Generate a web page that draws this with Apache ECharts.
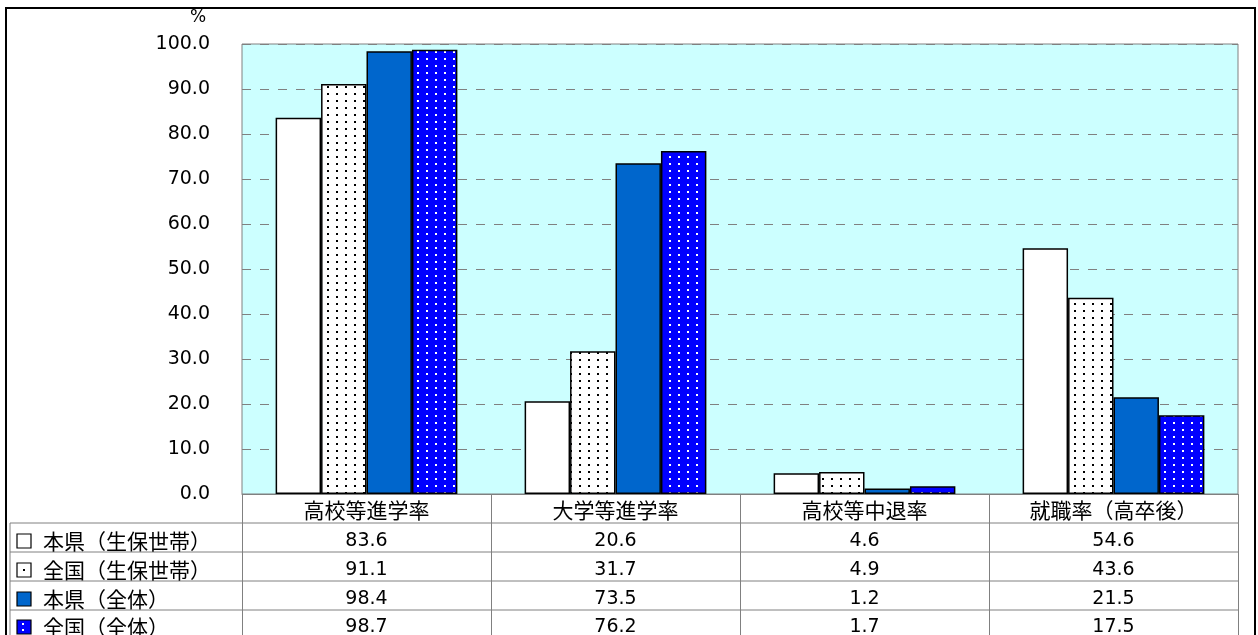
<!DOCTYPE html>
<html>
<head>
<meta charset="utf-8">
<script src="https://cdn.jsdelivr.net/npm/echarts@6/dist/echarts.min.js"></script>
<style>
html,body{margin:0;padding:0;background:#fff;}
#chart{width:1258px;height:635px;}
</style>
</head>
<body>
<div id="chart"></div>
<script>
// ---- data ----
const categories = ['高校等進学率', '大学等進学率', '高校等中退率', '就職率（高卒後）'];
const seriesNames = ['本県（生保世帯）', '全国（生保世帯）', '本県（全体）', '全国（全体）'];
const prefWelfare = [83.6, 20.6, 4.6, 54.6];
const natWelfare = [91.1, 31.7, 4.9, 43.6];
const prefAll = [98.4, 73.5, 1.2, 21.5];
const natAll = [98.7, 76.2, 1.7, 17.5];
const yTicks = [0, 10, 20, 30, 40, 50, 60, 70, 80, 90, 100];

const seriesValues = [prefWelfare, natWelfare, prefAll, natAll];

function makePattern(bg, dot) {
  const c = document.createElement('canvas');
  c.width = 9; c.height = 7;
  const ctx = c.getContext('2d');
  ctx.fillStyle = bg; ctx.fillRect(0, 0, 9, 7);
  ctx.fillStyle = dot; ctx.fillRect(3, 2, 2, 2);
  return c;
}
const patWhite = makePattern('#ffffff', '#000000');
const patBlue = makePattern('#0000ff', '#ffffff');

const fills = [
  '#ffffff',
  { image: patWhite, repeat: 'repeat' },
  '#0066cc',
  { image: patBlue, repeat: 'repeat' }
];

const GRID = { left: 242, top: 44, right: 20, bottom: 141 };
const ROW_LINES = [523, 552, 581, 610];
const ROW_TEXT = [541, 570, 599, 627];

const chart = echarts.init(document.getElementById('chart'));

const option = {
  animation: false,
  backgroundColor: '#ffffff',
  grid: {
    left: GRID.left, top: GRID.top, right: GRID.right, bottom: GRID.bottom,
    show: true, backgroundColor: '#ccffff', borderColor: '#808080', borderWidth: 1
  },
  xAxis: {
    type: 'category',
    data: categories,
    axisLine: { show: true, lineStyle: { color: '#808080', width: 1 } },
    axisTick: { show: true, length: 141, lineStyle: { color: '#808080', width: 1 } },
    axisLabel: {
      margin: 6, verticalAlign: 'top', color: '#000',
      fontFamily: 'Noto Sans CJK JP', fontSize: 21
    }
  },
  yAxis: {
    type: 'value',
    min: 0, max: 100, interval: 10,
    axisLine: { show: false },
    axisTick: { show: false },
    axisLabel: {
      margin: 32, color: '#000', fontFamily: 'DejaVu Sans', fontSize: 19,
      formatter: v => yTicks.indexOf(v) >= 0 ? v.toFixed(1) : ''
    },
    splitLine: { show: true, lineStyle: { color: '#808080', width: 1, type: [9, 9] } }
  },
  series: seriesValues.map((vals, i) => ({
    name: seriesNames[i],
    type: 'bar',
    data: vals,
    barGap: '0%',
    barCategoryGap: '27%',
    itemStyle: { color: fills[i], borderColor: '#000', borderWidth: 1.5 }
  }))
};
chart.setOption(option);

// ---- table below the chart (drawn from data arrays) ----
const g = [];
// outer border
g.push({ type: 'rect', shape: { x: 6, y: 8, width: 1249, height: 640 },
  style: { fill: 'none', stroke: '#000', lineWidth: 2 }, z: 100 });
// % label
g.push({ type: 'text', x: 198, y: 18,
  style: { text: '%', fontFamily: 'DejaVu Sans', fontSize: 17, fill: '#000', align: 'center', verticalAlign: 'middle' } });
// table lines
ROW_LINES.forEach(y => g.push({ type: 'line', shape: { x1: 10, y1: y, x2: 1238, y2: y },
  style: { stroke: '#808080', lineWidth: 1 } }));
g.push({ type: 'line', shape: { x1: 10, y1: 523, x2: 10, y2: 640 }, style: { stroke: '#808080', lineWidth: 1 } });

seriesNames.forEach((name, r) => {
  const cy = ROW_TEXT[r];
  // legend icon
  g.push({ type: 'rect', shape: { x: 17, y: cy - 7, width: 14, height: 14 },
    style: { fill: r === 2 ? '#0066cc' : (r === 3 ? '#0000ff' : '#ffffff'), stroke: '#000', lineWidth: 1.2 } });
  if (r === 1) g.push({ type: 'rect', shape: { x: 23, y: cy - 1, width: 2, height: 2 }, style: { fill: '#000' } });
  if (r === 3) {
    g.push({ type: 'rect', shape: { x: 22, y: cy - 4, width: 2, height: 2 }, style: { fill: '#fff' } });
    g.push({ type: 'rect', shape: { x: 22, y: cy + 2, width: 2, height: 2 }, style: { fill: '#fff' } });
  }
  g.push({ type: 'text', x: 43, y: cy,
    style: { text: name, fontFamily: 'Noto Sans CJK JP', fontSize: 21, fill: '#000', align: 'left', verticalAlign: 'middle' } });
  categories.forEach((c, ci) => {
    const px = chart.convertToPixel({ xAxisIndex: 0 }, c);
    g.push({ type: 'text', x: px, y: cy,
      style: { text: seriesValues[r][ci].toFixed(1), fontFamily: 'DejaVu Sans', fontSize: 19, fill: '#000', align: 'center', verticalAlign: 'middle' } });
  });
});
chart.setOption({ graphic: g });
</script>
</body>
</html>
